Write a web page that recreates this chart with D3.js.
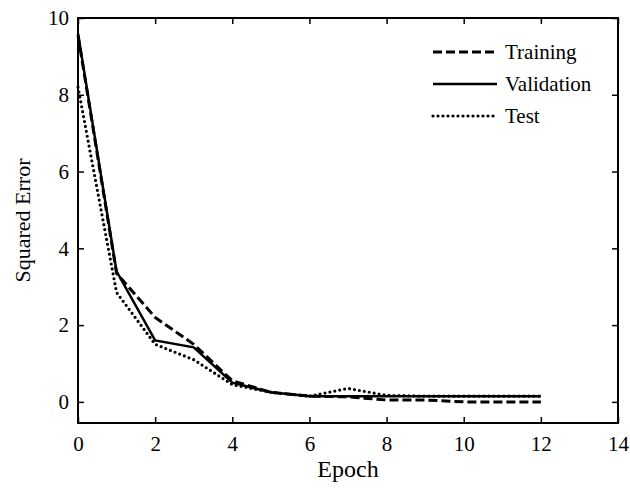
<!DOCTYPE html>
<html>
<head>
<style>
  body { margin: 0; background: #fff; }
  svg text { font-family: "Liberation Serif", "DejaVu Serif", serif; fill: #000; }
</style>
<script src="https://d3js.org/d3.v7.min.js"></script>
</head>
<body>
<script>
  const epochs = [0, 1, 2, 3, 4, 5, 6, 7, 8, 9, 10, 11, 12];
  const training   = [9.55, 3.35, 2.2, 1.5, 0.55, 0.25, 0.15, 0.13, 0.05, 0.05, 0.0, 0.0, 0.0];
  const validation = [9.6, 3.4, 1.6, 1.42, 0.5, 0.25, 0.15, 0.15, 0.15, 0.15, 0.15, 0.15, 0.15];
  const test       = [8.2, 2.85, 1.5, 1.1, 0.45, 0.25, 0.15, 0.35, 0.17, 0.15, 0.15, 0.15, 0.15];
  const xTicks = [0, 2, 4, 6, 8, 10, 12, 14];
  const yTicks = [0, 2, 4, 6, 8, 10];
  const seriesNames = ["Training", "Validation", "Test"];

  const w = 630, h = 490;
  const pLeft = 78, pRight = 618, pTop = 18, pBottom = 423;

  const svg = d3.select("body").append("svg")
    .attr("width", w).attr("height", h);

  const x = d3.scaleLinear().domain([0, 14]).range([pLeft, pRight]);
  const y = d3.scaleLinear().domain([-0.55, 10]).range([pBottom, pTop]);

  // frame
  svg.append("rect")
    .attr("x", pLeft).attr("y", pTop)
    .attr("width", pRight - pLeft).attr("height", pBottom - pTop)
    .attr("fill", "none").attr("stroke", "#000").attr("stroke-width", 2);

  // axes, ticks pointing inward
  const tl = 6;
  svg.append("g").attr("transform", `translate(0,${pBottom})`)
    .call(d3.axisBottom(x).tickValues(xTicks).tickSize(-tl).tickPadding(13))
    .call(g => g.select(".domain").remove());
  svg.append("g").attr("transform", `translate(0,${pTop})`)
    .call(d3.axisTop(x).tickValues(xTicks).tickSize(-tl).tickFormat(""))
    .call(g => g.select(".domain").remove());
  svg.append("g").attr("transform", `translate(${pLeft},0)`)
    .call(d3.axisLeft(y).tickValues(yTicks).tickSize(-tl).tickPadding(9))
    .call(g => g.select(".domain").remove());
  svg.append("g").attr("transform", `translate(${pRight},0)`)
    .call(d3.axisRight(y).tickValues(yTicks).tickSize(-tl).tickFormat(""))
    .call(g => g.select(".domain").remove());

  svg.selectAll(".tick line").attr("stroke", "#000").attr("stroke-width", 1.5);
  svg.selectAll(".tick text")
    .style("font-family", '"Liberation Serif", serif')
    .style("font-size", "21px").attr("fill", "#000");

  // axis titles
  svg.append("text").attr("x", 348).attr("y", 477)
    .attr("text-anchor", "middle").style("font-size", "24px").text("Epoch");
  svg.append("text")
    .attr("transform", `translate(30,${(pTop + pBottom) / 2}) rotate(-90)`)
    .attr("text-anchor", "middle").style("font-size", "22px").text("Squared Error");

  const styles = {
    Training:   { dash: "9,4", width: 3, cap: "butt" },
    Validation: { dash: null,  width: 2.5, cap: "butt" },
    Test:       { dash: "0,5", width: 3.2, cap: "round" }
  };
  const dataBy = { Training: training, Validation: validation, Test: test };

  const line = d3.line().x(d => x(d[0])).y(d => y(d[1]));

  seriesNames.forEach(name => {
    const s = styles[name];
    svg.append("path")
      .datum(epochs.map((e, i) => [e, dataBy[name][i]]))
      .attr("d", line)
      .attr("fill", "none")
      .attr("stroke", "#000")
      .attr("stroke-width", s.width)
      .attr("stroke-linecap", s.cap)
      .attr("stroke-dasharray", s.dash);
  });

  // legend
  const legend = svg.append("g");
  seriesNames.forEach((name, i) => {
    const s = styles[name];
    const ly = 52 + i * 32;
    legend.append("line")
      .attr("x1", 433).attr("x2", 497).attr("y1", ly).attr("y2", ly)
      .attr("stroke", "#000")
      .attr("stroke-width", s.width)
      .attr("stroke-linecap", s.cap)
      .attr("stroke-dasharray", s.dash);
    legend.append("text")
      .attr("x", 505).attr("y", ly + 7)
      .style("font-size", "21px").text(name);
  });
</script>
</body>
</html>
